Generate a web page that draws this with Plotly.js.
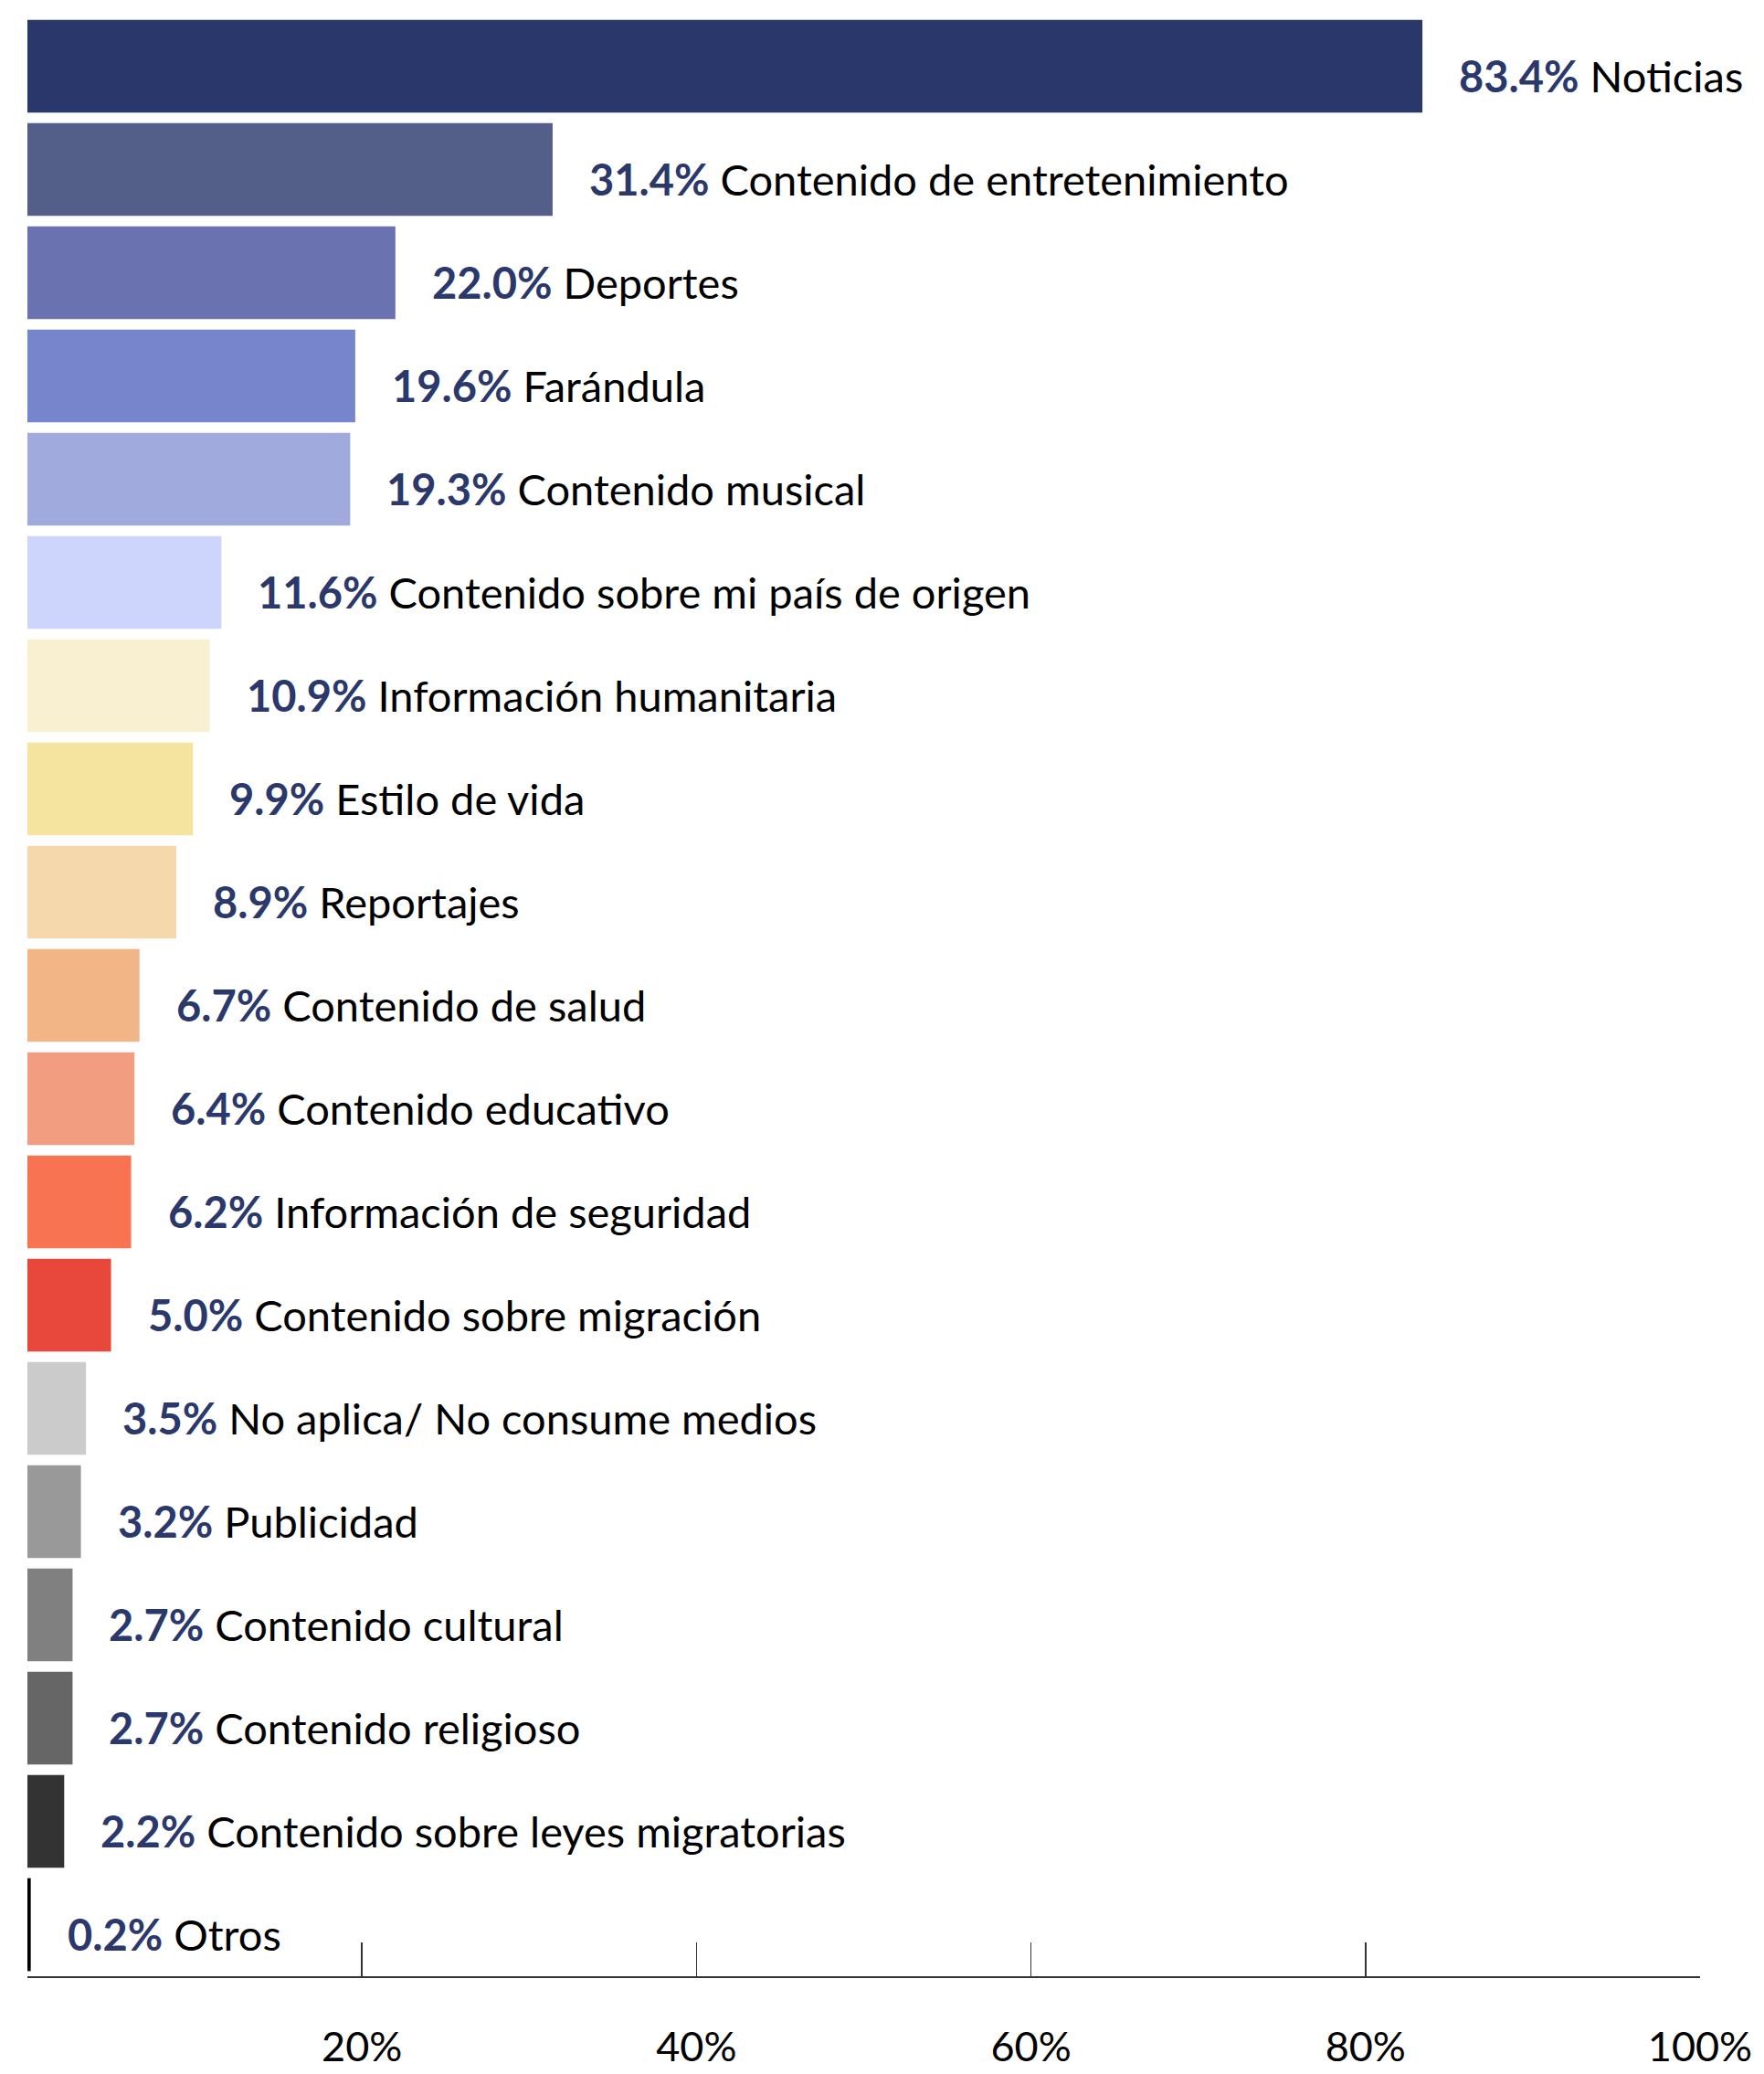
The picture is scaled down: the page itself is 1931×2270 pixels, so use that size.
<!DOCTYPE html>
<html>
<head>
<meta charset="utf-8">
<script src="https://cdn.plot.ly/plotly-3.0.1.min.js"></script>
<style>html,body{margin:0;padding:0;background:#fff;}</style>
</head>
<body>
<div id="chart" style="width:1931px;height:2270px;"></div>
<script>
const categories = [
  "Noticias",
  "Contenido de entretenimiento",
  "Deportes",
  "Farándula",
  "Contenido musical",
  "Contenido sobre mi país de origen",
  "Información humanitaria",
  "Estilo de vida",
  "Reportajes",
  "Contenido de salud",
  "Contenido educativo",
  "Información de seguridad",
  "Contenido sobre migración",
  "No aplica/ No consume medios",
  "Publicidad",
  "Contenido cultural",
  "Contenido religioso",
  "Contenido sobre leyes migratorias",
  "Otros"
];
const values = [83.4, 31.4, 22.0, 19.6, 19.3, 11.6, 10.9, 9.9, 8.9, 6.7, 6.4, 6.2, 5.0, 3.5, 3.2, 2.7, 2.7, 2.2, 0.2];
const barColors = [
  "#2a376a", "#535f88", "#6a73b0", "#7586cc", "#a0aadd", "#cdd5fd",
  "#f8f0d0", "#f4e49f", "#f5d8ab", "#f2b585", "#f29c80", "#f77351",
  "#e8473b", "#cbcbcb", "#999999", "#808080", "#666666", "#333333", "#000000"
];
const tickValues = [20, 40, 60, 80, 100];
const tickLabels = ["20%", "40%", "60%", "80%", "100%"];

const FONT = "Lato, 'Open Sans', sans-serif";
const NAVY = "#2b386b";

const trace = {
  type: "bar",
  orientation: "h",
  x: values,
  y: categories,
  marker: { color: barColors, line: { width: 0 } },
  hoverinfo: "none"
};

const annotations = values.map((v, i) => ({
  x: v,
  y: categories[i],
  xref: "x",
  yref: "y",
  xanchor: "left",
  yanchor: "middle",
  xshift: 38,
  yshift: -10,
  showarrow: false,
  text: "<b><span style='color:" + NAVY + "'>" + v.toFixed(1) + "%</span></b> " + categories[i],
  font: { family: FONT, size: 47, color: "#000000" }
}));

const layout = {
  width: 1931,
  height: 2270,
  margin: { l: 30, r: 70, t: 16, b: 107 },
  paper_bgcolor: "#ffffff",
  plot_bgcolor: "#ffffff",
  showlegend: false,
  bargap: 0.1,
  font: { family: FONT, size: 45, color: "#000000" },
  xaxis: {
    range: [0, 100],
    tickvals: tickValues,
    ticktext: tickLabels,
    ticks: "inside",
    ticklen: 37,
    tickwidth: 1.5,
    tickcolor: "#333333",
    showline: true,
    linecolor: "#333333",
    linewidth: 2,
    showgrid: false,
    zeroline: false,
    ticklabelstandoff: 37,
    tickfont: { family: FONT, size: 45, color: "#000000" },
    fixedrange: true
  },
  yaxis: {
    autorange: "reversed",
    showticklabels: false,
    ticks: "",
    showline: false,
    showgrid: false,
    zeroline: false,
    fixedrange: true
  },
  annotations: annotations
};

Plotly.newPlot("chart", [trace], layout, { displayModeBar: false, staticPlot: true });
</script>
</body>
</html>
